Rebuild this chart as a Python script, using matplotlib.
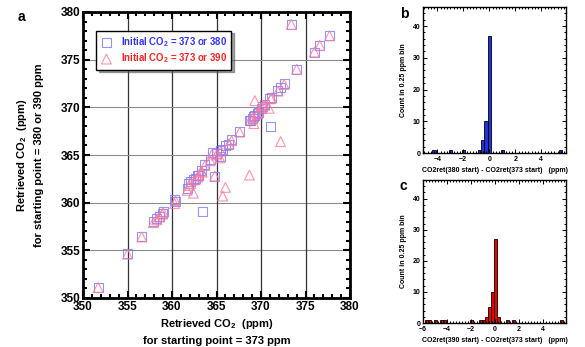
import matplotlib
matplotlib.use("Agg")
import matplotlib.pyplot as plt
from matplotlib.ticker import MultipleLocator
import numpy as np

plt.rcParams['font.family'] = ['Liberation Sans', 'DejaVu Sans']
plt.rcParams['font.weight'] = 'bold'
plt.rcParams['mathtext.default'] = 'regular'

# retrieved CO2 for 373 ppm start (x) vs. 380 / 390 ppm start
co2_373 = [351.7, 355.0, 356.6, 357.9, 358.3, 358.6, 358.9, 359.0, 360.3, 360.4,
           361.7, 361.9, 362.1, 362.4, 362.6, 362.9, 363.0, 363.4, 363.3, 363.7,
           364.3, 364.5, 364.8, 365.0, 365.4, 365.5, 365.7, 366.0, 366.4, 366.7,
           367.6, 368.7, 368.8, 369.1, 369.2, 369.3, 369.6, 369.7, 370.1, 370.2,
           370.4, 370.9, 371.1, 371.2, 371.9, 372.2, 372.6, 374.0, 376.0, 376.6,
           377.7, 373.4]
co2_380 = [351.1, 354.7, 356.4, 358.0, 358.3, 358.5, 358.9, 359.1, 360.3, 360.1,
           361.5, 362.0, 362.2, 362.4, 362.5, 362.8, 362.9, 359.1, 363.4, 364.0,
           364.5, 365.3, 362.7, 365.2, 364.8, 365.5, 365.6, 366.0, 366.1, 366.6,
           367.5, 368.6, 368.6, 368.8, 369.0, 369.1, 369.4, 369.5, 369.9, 370.1,
           370.3, 370.9, 368.0, 371.0, 371.8, 372.1, 372.5, 374.0, 375.8, 376.5,
           377.5, 378.7]
co2_390 = [351.1, 354.6, 356.4, 357.9, 358.2, 358.5, 358.8, 359.0, 359.9, 360.2,
           361.3, 361.8, 362.0, 361.0, 362.4, 362.7, 362.9, 363.2, 363.3, 363.9,
           364.4, 365.1, 362.8, 365.0, 364.7, 365.4, 360.7, 361.6, 366.2, 366.5,
           367.4, 362.9, 368.7, 368.9, 368.3, 370.7, 369.3, 369.5, 370.0, 370.2,
           370.2, 369.9, 370.9, 371.0, 371.7, 366.4, 372.4, 374.0, 375.8, 376.5,
           377.5, 378.7]

# histogram of differences, 0.25 ppm bins (bin centre, count)
diff_b = [-4.25, -3.0, -2.0, -0.75, -0.5, -0.25, 0.0, 1.0, 5.5]
count_b = [1, 1, 1, 1, 4, 10, 37, 1, 1]
diff_c = [-5.75, -5.5, -5.0, -4.5, -4.25, -2.0, -1.25, -1.0, -0.75, -0.5,
          -0.25, 0.0, 0.25, 1.0, 1.5, 5.5]
count_c = [1, 1, 1, 1, 1, 1, 1, 1, 2, 5, 10, 27, 2, 1, 1, 1]

W, H = 585, 347
fig = plt.figure(figsize=(W / 100, H / 100), dpi=100)

def box(l, t, r, b):
    return [l / W, 1 - b / H, (r - l) / W, (b - t) / H]

# ---- panel a ----
ax = fig.add_axes(box(83, 12, 350, 298))
ax.set_xlim(350, 380)
ax.set_ylim(350, 380)
for v in range(355, 380, 5):
    ax.axvline(v, color='0.2', lw=0.9, zorder=0)
    ax.axhline(v, color='0.55', lw=0.8, zorder=0)
ax.scatter(co2_373, co2_380, marker='s', s=42, facecolors='none',
           edgecolors='#7a7aff', linewidths=0.8, alpha=0.8, zorder=3,
           label='Initial CO$_2$ = 373 or 380')
ax.scatter(co2_373, co2_390, marker='^', s=50, facecolors='none',
           edgecolors='#ff7a9a', linewidths=0.8, alpha=0.8, zorder=3,
           label='Initial CO$_2$ = 373 or 390')
ax.xaxis.set_major_locator(MultipleLocator(5))
ax.yaxis.set_major_locator(MultipleLocator(5))
ax.xaxis.set_minor_locator(MultipleLocator(1))
ax.yaxis.set_minor_locator(MultipleLocator(1))
ax.tick_params(which='both', direction='in', top=True, right=True, width=1.5)
ax.tick_params(which='major', length=5, labelsize=8.5, pad=2)
ax.tick_params(which='minor', length=3)
for sp in ax.spines.values():
    sp.set_linewidth(2)
ax.set_xlabel('Retrieved CO$_2$  (ppm)\nfor starting point = 373 ppm',
              fontsize=8, fontweight='bold', linespacing=1.6, labelpad=3)
ax.set_ylabel('Retrieved CO$_2$  (ppm)\nfor starting point = 380 or 390 ppm',
              fontsize=8, fontweight='bold', linespacing=1.6, labelpad=12)
leg = ax.legend(loc='upper left', bbox_to_anchor=(0.05, 0.935), fontsize=6.9,
                frameon=True, fancybox=False, shadow=True, handletextpad=0.9,
                borderpad=0.45, labelspacing=0.3, handlelength=1.2,
                borderaxespad=0.0)
leg.get_frame().set_edgecolor('black')
leg.get_frame().set_linewidth(1.0)
for t, c in zip(leg.get_texts(), ['#3333ff', '#ff2020']):
    t.set_color(c)
    t.set_fontweight('bold')
fig.text(18 / W, 1 - 17 / H, 'a', fontsize=10, fontweight='bold', va='center')

# ---- panels b, c ----
def hist_panel(rect, centres, counts, color, xlim, xlabel, letter, ly):
    hx = fig.add_axes(rect)
    hx.bar(centres, counts, width=0.25, color=color, edgecolor='black',
           linewidth=0.6, align='center')
    hx.set_xlim(*xlim)
    hx.set_ylim(0, 46)
    hx.xaxis.set_major_locator(MultipleLocator(2))
    hx.xaxis.set_minor_locator(MultipleLocator(0.25))
    hx.yaxis.set_major_locator(MultipleLocator(10))
    hx.yaxis.set_minor_locator(MultipleLocator(2))
    hx.tick_params(which='both', direction='in', top=True, right=True,
                   width=0.7, labelsize=5, pad=2)
    hx.tick_params(which='major', length=3)
    hx.tick_params(which='minor', length=1.5)
    for sp in hx.spines.values():
        sp.set_linewidth(1)
    hx.set_xlabel(xlabel, fontsize=5, fontweight='bold', labelpad=3)
    hx.set_ylabel('Count in 0.25 ppm bin', fontsize=5, fontweight='bold',
                  labelpad=4)
    fig.text(400 / W, 1 - ly / H, letter, fontsize=10, fontweight='bold',
             va='center')
    return hx

hist_panel(box(423, 7, 566, 153), diff_b, count_b, '#2233dd', (-5.1, 5.9),
           'CO2ret(380 start) - CO2ret(373 start)   (ppm)', 'b', 14)
hist_panel(box(423, 180, 566, 323), diff_c, count_c, '#ee0000', (-6.0, 5.9),
           'CO2ret(390 start) - CO2ret(373 start)   (ppm)', 'c', 186)

fig.savefig('out.png', dpi=100)
